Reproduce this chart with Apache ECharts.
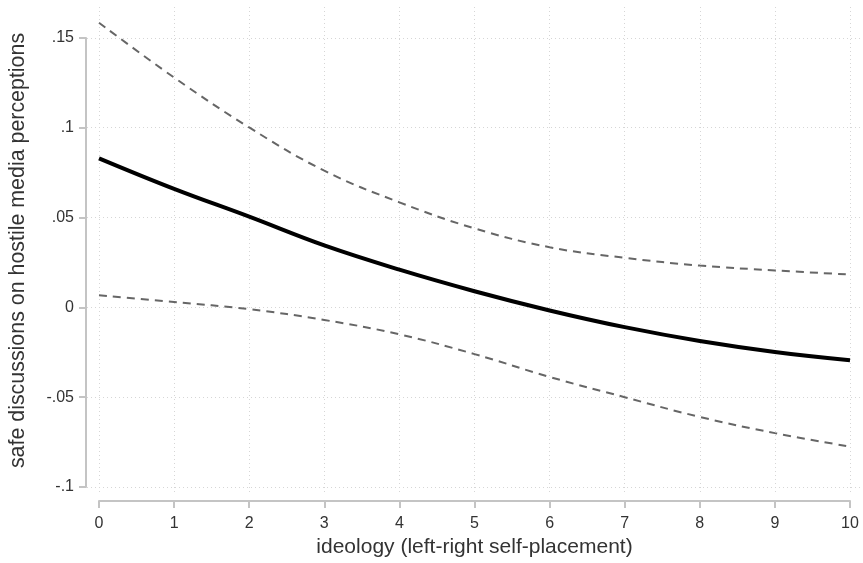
<!DOCTYPE html>
<html>
<head>
<meta charset="utf-8">
<script src="https://cdn.jsdelivr.net/npm/echarts@6/dist/echarts.min.js"></script>
<style>html,body{margin:0;padding:0;background:#fff;}#c{width:863px;height:563px;}</style>
</head>
<body>
<div id="c"></div>
<script>
const ideology = [0, 1, 2, 3, 4, 5, 6, 7, 8, 9, 10];
const estimate = [0.083, 0.066, 0.0505, 0.0345, 0.021, 0.009, -0.0017, -0.011, -0.0187, -0.0248, -0.0294];
const upperCI = [0.1585, 0.128, 0.1002, 0.0761, 0.0585, 0.044, 0.0335, 0.0276, 0.0233, 0.0206, 0.0183];
const lowerCI = [0.0067, 0.003, -0.001, -0.007, -0.015, -0.026, -0.0387, -0.050, -0.061, -0.070, -0.0775];
const xTicks = [0, 1, 2, 3, 4, 5, 6, 7, 8, 9, 10];
const yTicks = [-0.1, -0.05, 0, 0.05, 0.1, 0.15];
const yTickLabels = ['-.1', '-.05', '0', '.05', '.1', '.15'];
const xTitle = 'ideology (left-right self-placement)';
const yTitle = 'safe discussions on hostile media perceptions';

const FONT = 'Liberation Sans, Arial, sans-serif';
const pair = (xs, ys) => xs.map((x, i) => [x, ys[i]]);
const fmtY = v => {
  const i = yTicks.findIndex(t => Math.abs(t - v) < 1e-9);
  return i >= 0 ? yTickLabels[i] : '';
};

const chart = echarts.init(document.getElementById('c'), null, {renderer: 'canvas'});
const gridStyle = {show: true, lineStyle: {color: '#d6d6d6', type: [1, 3], width: 1}};
chart.setOption({
  backgroundColor: '#ffffff',
  animation: false,
  grid: [
    {left: 87, right: 2, top: 7, bottom: 71},
    {left: 99, right: 13, top: 38, bottom: 76}
  ],
  xAxis: [
    {gridIndex: 0, type: 'value', min: -0.1598, max: 10.146,
     axisLine: {show: false, onZero: false}, axisLabel: {show: false},
     axisTick: {show: false, customValues: xTicks},
     splitLine: gridStyle},
    {gridIndex: 1, type: 'value', min: 0, max: 10, interval: 1, position: 'bottom', offset: 14,
     axisLine: {show: true, onZero: false, lineStyle: {color: '#c4c4c4', width: 2}},
     axisTick: {show: true, length: 7, lineStyle: {color: '#c4c4c4', width: 2}},
     axisLabel: {color: '#333', fontSize: 16, fontFamily: FONT, margin: 15},
     splitLine: {show: false},
     name: xTitle, nameLocation: 'middle', nameGap: 36,
     nameTextStyle: {color: '#333', fontSize: 21, fontFamily: FONT}}
  ],
  yAxis: [
    {gridIndex: 0, type: 'value', min: -0.10278, max: 0.16722,
     axisLine: {show: false, onZero: false}, axisLabel: {show: false},
     axisTick: {show: false, customValues: yTicks},
     splitLine: gridStyle},
    {gridIndex: 1, type: 'value', min: -0.1, max: 0.15, interval: 0.05, position: 'left', offset: 13,
     axisLine: {show: true, onZero: false, lineStyle: {color: '#c4c4c4', width: 2}},
     axisTick: {show: true, length: 7, lineStyle: {color: '#c4c4c4', width: 2}},
     axisLabel: {color: '#333', fontSize: 16, fontFamily: FONT, margin: 12, formatter: fmtY},
     splitLine: {show: false},
     name: yTitle, nameLocation: 'middle', nameGap: 57, nameRotate: 90,
     nameTextStyle: {color: '#333', fontSize: 21.4, fontFamily: FONT, padding: [0, 0, 0, 24]}}
  ],
  series: [
    {type: 'line', xAxisIndex: 1, yAxisIndex: 1, data: pair(ideology, upperCI), smooth: 0.4,
     showSymbol: false, clip: false, lineStyle: {color: '#666', width: 2, type: [8, 6]}},
    {type: 'line', xAxisIndex: 1, yAxisIndex: 1, data: pair(ideology, lowerCI), smooth: 0.4,
     showSymbol: false, clip: false, lineStyle: {color: '#666', width: 2, type: [8, 6]}},
    {type: 'line', xAxisIndex: 1, yAxisIndex: 1, data: pair(ideology, estimate), smooth: 0.4,
     showSymbol: false, clip: false, lineStyle: {color: '#000', width: 4}}
  ]
});
</script>
</body>
</html>
